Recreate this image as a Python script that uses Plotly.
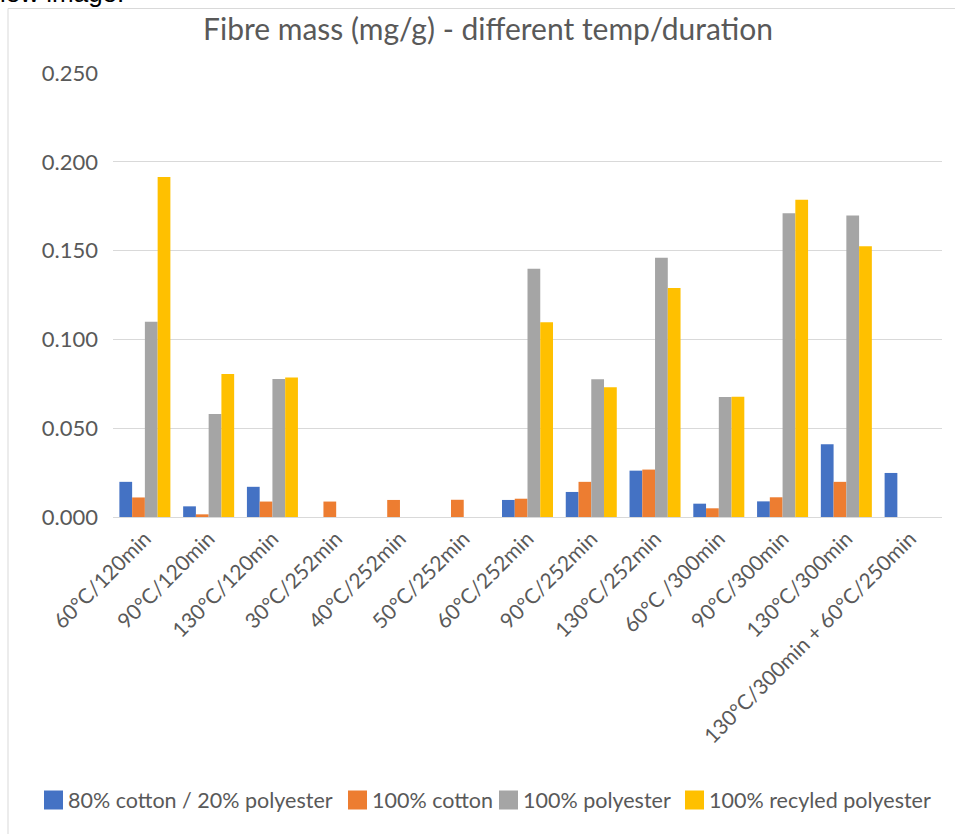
import plotly.graph_objects as go

# Wash conditions (temperature / duration)
categories = [
    "60°C/120min", "90°C/120min", "130°C/120min", "30°C/252min",
    "40°C/252min", "50°C/252min", "60°C/252min", "90°C/252min",
    "130°C/252min", "60°C /300min", "90°C/300min", "130°C/300min",
    "130°C/300min + 60°C/250min",
]

# Released fibre mass (mg/g) per fabric type; None = not measured
cotton_poly_blend = [0.0198, 0.0060, 0.0170, None, None, None, 0.0096, 0.0141,
                     0.0261, 0.0075, 0.0088, 0.0410, 0.0248]
cotton_100 = [0.0110, 0.0015, 0.0087, 0.0087, 0.0096, 0.0097, 0.0103, 0.0198,
              0.0267, 0.0049, 0.0111, 0.0198, None]
polyester_100 = [0.1100, 0.0580, 0.0777, None, None, None, 0.1398, 0.0775,
                 0.1460, 0.0675, 0.1710, 0.1697, None]
recycled_poly_100 = [0.1915, 0.0805, 0.0785, None, None, None, 0.1097, 0.0730,
                     0.1289, 0.0677, 0.1787, 0.1525, None]

series_names = ["80% cotton / 20% polyester", "100% cotton",
                "100% polyester", "100% recyled polyester"]
series_values = [cotton_poly_blend, cotton_100, polyester_100, recycled_poly_100]
series_colors = ["#4472C4", "#ED7D31", "#A5A5A5", "#FFC000"]

y_ticks = [0.0, 0.05, 0.10, 0.15, 0.20, 0.25]
y_tick_text = ["0.000", "0.050", "0.100", "0.150", "0.200", "0.250"]

FONT = "Lato, 'Open Sans', sans-serif"
TEXT_GREY = "#595959"
GRID = "#D9D9D9"

W, H = 955, 834
ML, MR, MT, MB = 113, 13, 73, 317
PW, PH = W - ML - MR, H - MT - MB


def px_x(px):
    """Pixel column -> paper x."""
    return (px - ML) / PW


def px_y(py):
    """Pixel row (from top) -> paper y."""
    return (H - MB - py) / PH


fig = go.Figure()
for name, vals, col in zip(series_names, series_values, series_colors):
    fig.add_trace(go.Bar(
        x=categories, y=vals, name=name,
        marker=dict(color=col, line=dict(width=0)),
    ))

# Legend row below the axis: coloured square + label for each series
legend_square_left = [44, 348, 499, 685]
legend_row_center = 800
legend_square_size = 19
shapes = [dict(
    type="rect", xref="paper", yref="paper",
    x0=px_x(8), x1=px_x(W + 12), y0=px_y(H + 5), y1=px_y(8.5),
    line=dict(color=GRID, width=1), fillcolor="rgba(0,0,0,0)", layer="below",
)]
annotations = [dict(
    text="view image:", xref="paper", yref="paper",
    x=px_x(126), xanchor="right", y=px_y(10), yanchor="bottom",
    showarrow=False,
    font=dict(family="Liberation Sans, Arial", size=26, color="black"),
)]
for name, col, left in zip(series_names, series_colors, legend_square_left):
    shapes.append(dict(
        type="rect", xref="paper", yref="paper",
        x0=px_x(left), x1=px_x(left + legend_square_size),
        y0=px_y(legend_row_center + legend_square_size / 2),
        y1=px_y(legend_row_center - legend_square_size / 2),
        line=dict(width=0), fillcolor=col,
    ))
    annotations.append(dict(
        text=name, xref="paper", yref="paper",
        x=px_x(left + legend_square_size + 3), xanchor="left",
        y=px_y(legend_row_center), yanchor="middle",
        showarrow=False, font=dict(family=FONT, size=21.5, color=TEXT_GREY),
    ))

fig.update_layout(
    width=W, height=H,
    barmode="group", bargap=0.2, bargroupgap=0,
    paper_bgcolor="white", plot_bgcolor="white",
    margin=dict(l=ML, r=MR, t=MT, b=MB),
    font=dict(family=FONT, color=TEXT_GREY),
    showlegend=False,
    title=dict(
        text="Fibre mass (mg/g) - different temp/duration",
        font=dict(family=FONT, size=30, color=TEXT_GREY),
        x=488 / W, xanchor="center", y=1 - 29 / H, yanchor="middle",
    ),
    xaxis=dict(
        tickangle=-45, tickfont=dict(size=21, color=TEXT_GREY),
        showline=True, linecolor=GRID, linewidth=1,
        ticks="", showgrid=False,
    ),
    yaxis=dict(
        range=[0, 0.25], tickvals=y_ticks, ticktext=y_tick_text,
        tickfont=dict(size=22, color=TEXT_GREY),
        showgrid=True, gridcolor=GRID, gridwidth=1,
        zeroline=False, showline=False, ticks="", ticklen=0,
        ticklabelstandoff=14,
    ),
    shapes=shapes,
    annotations=annotations,
)

fig.write_html("out.html")
